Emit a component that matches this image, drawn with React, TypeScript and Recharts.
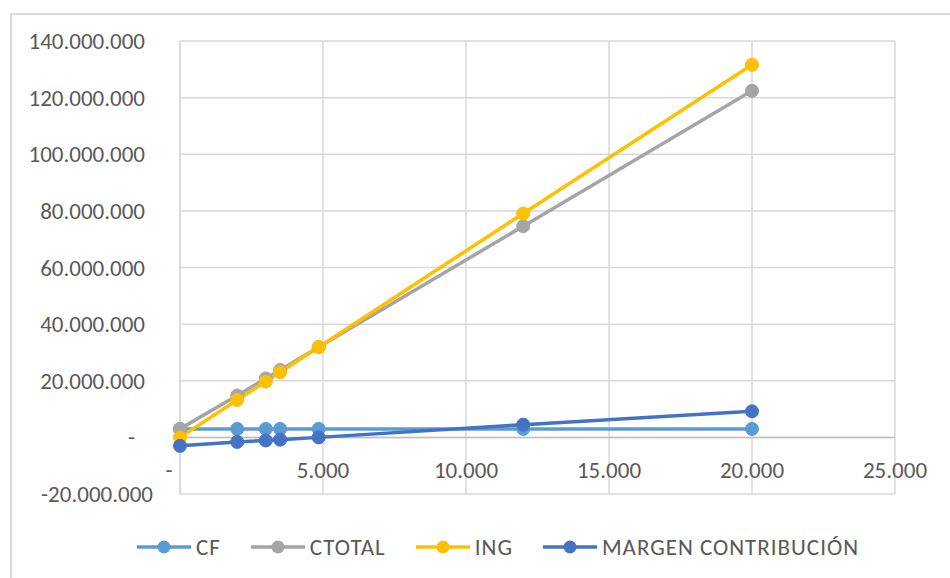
import React from "react";
import {
  LineChart,
  Line,
  XAxis,
  YAxis,
  CartesianGrid,
  ReferenceLine,
  Legend,
} from "recharts";

// unidades vendidas
const unidades = [0, 2000, 3000, 3500, 4850, 12000, 20000];
// costos fijos
const cf = [3000000, 3000000, 3000000, 3000000, 3000000, 3000000, 3000000];
// costo total
const ctotal = [3000000, 14800000, 20800000, 23800000, 31900000, 74600000, 122400000];
// ingresos
const ing = [0, 13200000, 19700000, 23000000, 31900000, 79100000, 131600000];
// margen de contribución
const margen = [-3000000, -1600000, -1100000, -800000, 0, 4500000, 9200000];

const xTicks = [0, 5000, 10000, 15000, 20000, 25000];
const yTicks = [-20000000, 0, 20000000, 40000000, 60000000, 80000000, 100000000, 120000000, 140000000];

const series = [
  { key: "cf", name: "CF", color: "#5B9BD5" },
  { key: "ctotal", name: "CTOTAL", color: "#A5A5A5" },
  { key: "ing", name: "ING", color: "#FFC000" },
  { key: "margen", name: "MARGEN CONTRIBUCIÓN", color: "#4472C4" },
];

const data = unidades.map((u, i) => ({
  u,
  cf: cf[i],
  ctotal: ctotal[i],
  ing: ing[i],
  margen: margen[i],
}));

const FONT = "Carlito, 'Liberation Sans', Arial, sans-serif";
const TEXT = "#595959";

const fmt = (v: number) => {
  if (v === 0) return "-";
  const s = Math.abs(v)
    .toFixed(0)
    .replace(/\B(?=(\d{3})+(?!\d))/g, ".");
  return v < 0 ? "-" + s : s;
};

const XTick = (props: any) => {
  const { x, y, payload } = props;
  const v = payload.value as number;
  return (
    <text
      x={v === 0 ? x - 11 : x}
      y={y - 16}
      textAnchor="middle"
      fill={TEXT}
      fontSize={23}
      fontFamily={FONT}
    >
      {fmt(v)}
    </text>
  );
};

const YTick = (props: any) => {
  const { x, y, payload } = props;
  const v = payload.value as number;
  const shift = v === 0 ? -10 : v < 0 ? 8 : 0;
  return (
    <text
      x={x + shift}
      y={y}
      dy={8}
      textAnchor="end"
      fill={TEXT}
      fontSize={23}
      fontFamily={FONT}
    >
      {fmt(v)}
    </text>
  );
};

const LegendContent = () => (
  <div style={{ display: "flex", gap: 30, alignItems: "center", whiteSpace: "nowrap" }}>
    {series.map((s) => (
      <div key={s.key} style={{ display: "flex", alignItems: "center", gap: 5 }}>
        <svg width={54} height={16}>
          <line x1={0} y1={8} x2={54} y2={8} stroke={s.color} strokeWidth={3.5} />
          <circle cx={27} cy={8} r={6.5} fill={s.color} />
        </svg>
        <span style={{ fontFamily: FONT, fontSize: 23, letterSpacing: 1, color: TEXT, lineHeight: "24px" }}>
          {s.name}
        </span>
      </div>
    ))}
  </div>
);

export default function App() {
  return (
    <div style={{ position: "absolute", left: 0, top: 0, width: 950, height: 578, background: "#fff" }}>
      <div
        style={{
          position: "absolute",
          left: 10,
          top: 13,
          width: 960,
          height: 580,
          border: "2px solid #D9D9D9",
          boxSizing: "border-box",
        }}
      />
      <LineChart
        width={950}
        height={578}
        data={data}
        margin={{ top: 41, right: 55, left: 0, bottom: 0 }}
      >
        <CartesianGrid stroke="#D9D9D9" strokeWidth={1.5} />
        <XAxis
          dataKey="u"
          type="number"
          domain={[0, 25000]}
          ticks={xTicks}
          height={84}
          axisLine={false}
          tickLine={false}
          tickSize={0}
          tickMargin={0}
          tick={<XTick />}
          interval={0}
        />
        <YAxis
          type="number"
          domain={[-20000000, 140000000]}
          ticks={yTicks}
          width={180}
          axisLine={{ stroke: "#D9D9D9", strokeWidth: 1.5 }}
          tickLine={false}
          tickSize={0}
          tickMargin={35}
          tick={<YTick />}
          interval={0}
        />
        <ReferenceLine y={0} stroke="#BFBFBF" strokeWidth={1.5} />
        <Legend
          layout="horizontal"
          verticalAlign="middle"
          align="center"
          wrapperStyle={{ top: 535, left: 137, width: "auto" }}
          content={<LegendContent />}
        />
        {series.map((s) => (
          <Line
            key={s.key}
            dataKey={s.key}
            name={s.name}
            type="linear"
            stroke={s.color}
            strokeWidth={3.5}
            dot={{ r: 6.5, fill: s.color, stroke: s.color, strokeWidth: 1 }}
            activeDot={false}
            isAnimationActive={false}
          />
        ))}
      </LineChart>
    </div>
  );
}
